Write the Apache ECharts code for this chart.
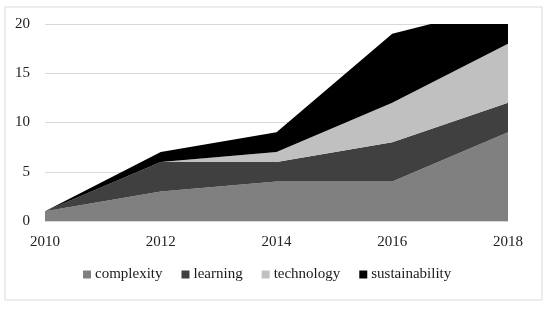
<!DOCTYPE html>
<html>
<head>
<meta charset="utf-8">
<script src="https://cdn.jsdelivr.net/npm/echarts@6/dist/echarts.min.js"></script>
<style>
  html, body { margin: 0; padding: 0; background: #fff; }
  #chart { width: 550px; height: 312px; }
</style>
</head>
<body>
<div id="chart"></div>
<script>
  // data
  var years = ['2010', '2012', '2014', '2016', '2018'];
  var complexity = [1, 3, 4, 4, 9];
  var learning = [0, 3, 2, 4, 3];
  var technology = [0, 0, 1, 4, 6];
  var sustainability = [0, 1, 2, 7, 4];

  var names = ['complexity', 'learning', 'technology', 'sustainability'];
  var colors = ['#808080', '#404040', '#c0c0c0', '#000000'];
  var values = [complexity, learning, technology, sustainability];

  var font = '"Liberation Serif", "DejaVu Serif", serif';

  var series = [];
  for (var i = 0; i < names.length; i++) {
    series.push({
      name: names[i],
      type: 'line',
      stack: 'total',
      data: values[i],
      symbol: 'none',
      clip: true,
      lineStyle: { width: 0 },
      areaStyle: { color: colors[i], opacity: 1 },
      itemStyle: { color: colors[i] }
    });
  }

  var chart = echarts.init(document.getElementById('chart'));
  chart.setOption({
    animation: false,
    textStyle: { fontFamily: font },
    graphic: [{
      type: 'rect',
      shape: { x: 5, y: 7, width: 537, height: 293 },
      style: { fill: 'none', stroke: '#d9d9d9', lineWidth: 1 },
      z: -1
    }],
    grid: { left: 45, right: 42, top: 24, bottom: 91 },
    legend: {
      bottom: 25,
      left: 78,
      itemWidth: 8,
      itemHeight: 8,
      itemGap: 19,
      icon: 'rect',
      textStyle: { fontFamily: font, fontSize: 15, color: '#1a1a1a', padding: [0, 0, 0, -1] },
      data: names
    },
    xAxis: {
      type: 'category',
      boundaryGap: false,
      data: years,
      axisLine: { lineStyle: { color: '#d9d9d9' } },
      axisTick: { show: false },
      axisLabel: { fontFamily: font, fontSize: 15, color: '#222', margin: 14 }
    },
    yAxis: {
      type: 'value',
      min: 0,
      max: 20,
      interval: 5,
      axisLine: { show: false },
      axisTick: { show: false },
      axisLabel: { fontFamily: font, fontSize: 15, color: '#222', margin: 15 },
      splitLine: { lineStyle: { color: '#d9d9d9', width: 1 } }
    },
    series: series
  });
</script>
</body>
</html>
